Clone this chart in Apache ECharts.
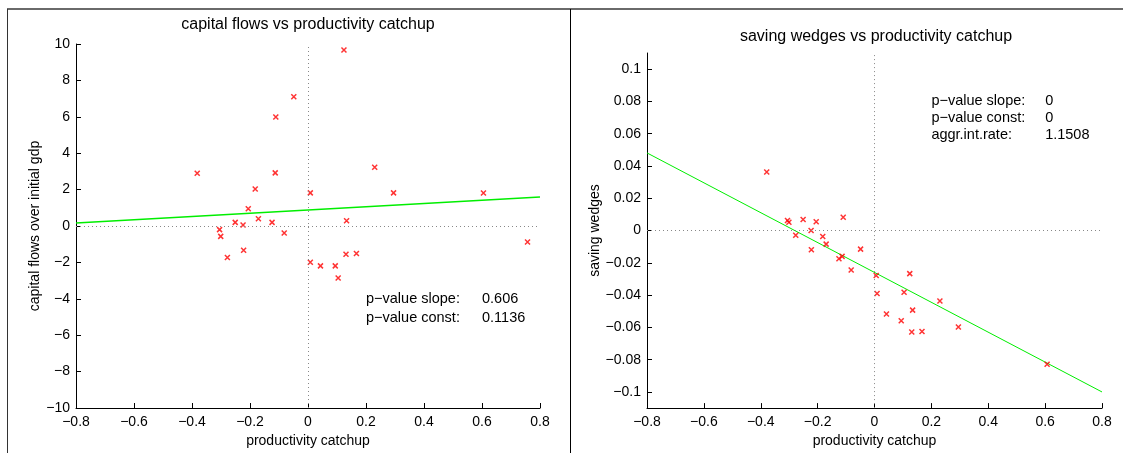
<!DOCTYPE html>
<html>
<head>
<meta charset="utf-8">
<script src="https://cdn.jsdelivr.net/npm/echarts@6/dist/echarts.min.js"></script>
<style>html,body{margin:0;padding:0;background:#fff;}#c{width:1123px;height:453px;}</style>
</head>
<body>
<div id="c"></div>
<script>
// Left panel: capital flows vs productivity catchup
const leftX = [0.124,-0.049,-0.111,-0.382,-0.113,0.230,-0.182,0.008,0.295,0.605,-0.206,-0.171,-0.251,-0.124,-0.224,0.133,-0.305,-0.301,-0.082,-0.222,-0.278,0.131,0.167,0.008,0.043,0.094,0.104,0.757];
const leftY = [9.67,7.10,5.99,2.90,2.92,3.23,2.03,1.82,1.82,1.81,0.95,0.40,0.20,0.20,0.05,0.29,-0.20,-0.57,-0.38,-1.33,-1.73,-1.55,-1.51,-1.99,-2.19,-2.19,-2.86,-0.88];
const leftFitX = [-0.8, 0.8];
const leftFitY = [0.16, 1.59];
// Right panel: saving wedges vs productivity catchup
const rightX = [-0.379,-0.306,-0.301,-0.251,-0.205,-0.110,-0.223,-0.277,-0.182,-0.170,-0.222,-0.049,-0.125,-0.114,-0.082,0.006,0.124,0.009,0.104,0.230,0.134,0.042,0.094,0.131,0.167,0.295,0.607];
const rightY = [0.0363,0.0062,0.0051,0.0068,0.0055,0.0082,0.0,-0.0029,-0.0037,-0.0084,-0.0119,-0.0115,-0.0175,-0.0160,-0.0244,-0.0279,-0.0267,-0.0390,-0.0382,-0.0437,-0.0493,-0.0517,-0.0559,-0.0628,-0.0626,-0.0598,-0.0828];
const rightFitX = [-0.8, 0.8];
const rightFitY = [0.0481, -0.1000];
const rightYTicks = [-0.1,-0.08,-0.06,-0.04,-0.02,0,0.02,0.04,0.06,0.08,0.1];
// Annotations
const leftNotes = [["p\u2212value slope:", "0.606"], ["p\u2212value const:", "0.1136"]];
const rightNotes = [["p\u2212value slope:", "0"], ["p\u2212value const:", "0"], ["aggr.int.rate:", "1.1508"]];

const FONT = "Liberation Sans";
const FS = 14;
const fmt = v => String(Number(Number(v).toFixed(4))).replace('-', '\u2212');
const crossPath = 'path://M0,0L10,10M10,0L0,10';

function zip(a, b) { return a.map((v, i) => [v, b[i]]); }

function xAxisCfg(gridIndex) {
  return {
    type: 'value', gridIndex, min: -0.8, max: 0.8, interval: 0.2,
    name: 'productivity catchup', nameLocation: 'middle', nameGap: 18,
    nameTextStyle: { fontFamily: FONT, fontSize: FS, color: '#000' },
    axisLine: { show: true, onZero: false, lineStyle: { color: '#000', width: 1 } },
    axisTick: { show: true, inside: true, length: 5, lineStyle: { color: '#000' } },
    axisLabel: { fontFamily: FONT, fontSize: FS, color: '#000', margin: 7, formatter: fmt, showMinLabel: true, showMaxLabel: true },
    splitLine: { show: false }
  };
}

const zeroLines = {
  silent: true, symbol: 'none', label: { show: false },
  lineStyle: { color: '#888', type: [1, 3], width: 1 },
  data: [{ xAxis: 0 }, { yAxis: 0 }]
};

const scatterStyle = {
  symbol: crossPath, symbolSize: 5,
  itemStyle: { color: 'none', borderColor: '#ff0000', borderWidth: 1.5 }
};

const titleStyle = { fontFamily: FONT, fontSize: 16, fontWeight: 'normal', color: '#000' };

const option = {
  animation: false,
  backgroundColor: '#fff',
  title: [
    { text: 'capital flows vs productivity catchup', left: 308, top: 17, padding: 0, textAlign: 'center', textStyle: titleStyle },
    { text: 'saving wedges vs productivity catchup', left: 876, top: 29, padding: 0, textAlign: 'center', textStyle: titleStyle }
  ],
  grid: [
    { left: 76, top: 44, width: 464, height: 364 },
    { left: 647, top: 53, width: 455, height: 356 }
  ],
  xAxis: [xAxisCfg(0), xAxisCfg(1)],
  yAxis: [
    {
      type: 'value', gridIndex: 0, min: -10, max: 10, interval: 2,
      name: 'capital flows over initial gdp', nameLocation: 'middle', nameGap: 32,
      nameTextStyle: { fontFamily: FONT, fontSize: FS, color: '#000' },
      axisLine: { show: true, onZero: false, lineStyle: { color: '#000', width: 1 } },
      axisTick: { show: true, inside: true, length: 5, lineStyle: { color: '#000' } },
      axisLabel: { fontFamily: FONT, fontSize: FS, color: '#000', margin: 6, formatter: fmt },
      splitLine: { show: false }
    },
    {
      type: 'value', gridIndex: 1, min: -0.11, max: 0.11,
      name: 'saving wedges', nameLocation: 'middle', nameGap: 39,
      nameTextStyle: { fontFamily: FONT, fontSize: FS, color: '#000' },
      axisLine: { show: true, onZero: false, lineStyle: { color: '#000', width: 1 } },
      axisTick: { show: true, inside: true, length: 5, lineStyle: { color: '#000' }, customValues: rightYTicks },
      axisLabel: { fontFamily: FONT, fontSize: FS, color: '#000', margin: 6, formatter: fmt, customValues: rightYTicks },
      splitLine: { show: false }
    }
  ],
  series: [
    { type: 'line', xAxisIndex: 0, yAxisIndex: 0, data: zip(leftFitX, leftFitY), symbol: 'none',
      lineStyle: { color: '#00ee00', width: 1.5 }, z: 3, silent: true },
    Object.assign({ type: 'scatter', xAxisIndex: 0, yAxisIndex: 0, data: zip(leftX, leftY), markLine: zeroLines, z: 4 }, scatterStyle),
    { type: 'line', xAxisIndex: 1, yAxisIndex: 1, data: zip(rightFitX, rightFitY), symbol: 'none',
      lineStyle: { color: '#00ee00', width: 1 }, z: 3, silent: true },
    Object.assign({ type: 'scatter', xAxisIndex: 1, yAxisIndex: 1, data: zip(rightX, rightY), markLine: zeroLines, z: 4 }, scatterStyle)
  ]
};

const chart = echarts.init(document.getElementById('c'), null, { renderer: 'canvas' });
chart.setOption(option);

// figure frame and annotations placed at data coordinates
const elems = [
  { type: 'line', shape: { x1: 7, y1: 9, x2: 1123, y2: 9 }, style: { stroke: '#6a6a6a', lineWidth: 2 } },
  { type: 'line', shape: { x1: 7.5, y1: 9, x2: 7.5, y2: 453 }, style: { stroke: '#333', lineWidth: 1 } },
  { type: 'line', shape: { x1: 570.5, y1: 9, x2: 570.5, y2: 453 }, style: { stroke: '#000', lineWidth: 1 } }
];
function addNotes(notes, grid, x1, x2, ys) {
  notes.forEach((n, i) => {
    const p1 = chart.convertToPixel({ gridIndex: grid }, [x1, ys[i]]);
    const p2 = chart.convertToPixel({ gridIndex: grid }, [x2, ys[i]]);
    [[p1, n[0]], [p2, n[1]]].forEach(([p, t]) => elems.push({
      type: 'text', x: p[0], y: p[1],
      style: { text: t, fontFamily: FONT, fontSize: 14.5, fill: '#000', verticalAlign: 'middle', align: 'left' }
    }));
  });
}
addNotes(leftNotes, 0, 0.2, 0.6, [-4.0, -5.05]);
addNotes(rightNotes, 1, 0.2, 0.6, [0.08, 0.07, 0.0595]);
chart.setOption({ graphic: elems });
</script>
</body>
</html>
